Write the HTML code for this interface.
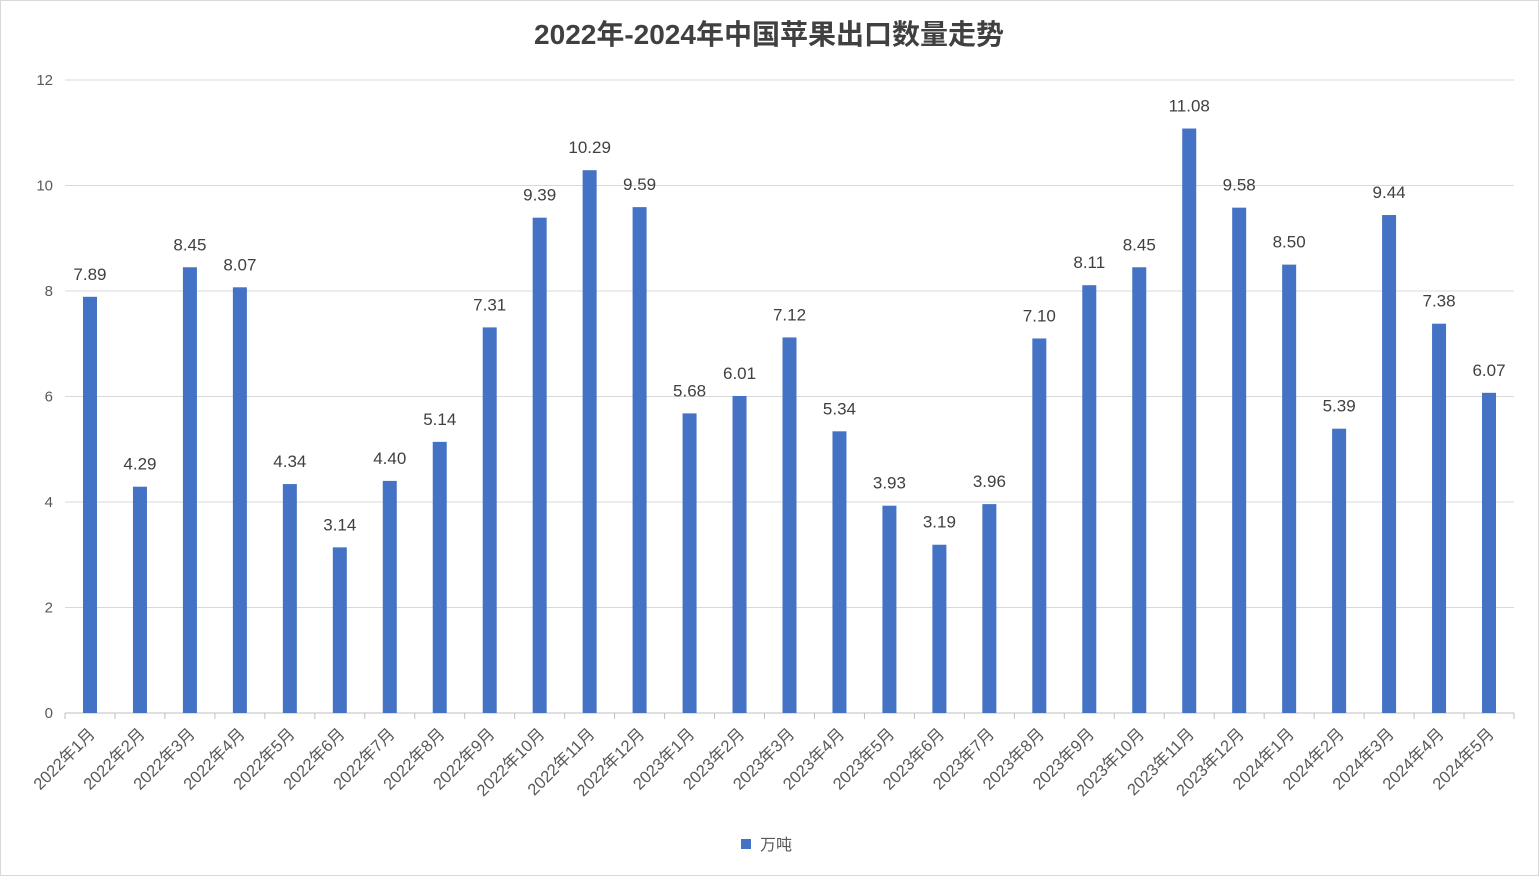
<!DOCTYPE html>
<html><head><meta charset="utf-8"><style>
html,body{margin:0;padding:0;background:#fff;}
svg{display:block;font-family:"Liberation Sans","Noto Sans CJK SC",sans-serif;}
</style></head><body>
<svg width="1539" height="876" viewBox="0 0 1539 876" xmlns="http://www.w3.org/2000/svg">
<rect x="0.5" y="0.5" width="1538" height="875" fill="#fff" stroke="#d9d9d9"/>
<text x="769" y="44" text-anchor="middle" font-size="28" font-weight="bold" fill="#404040">2022年-2024年中国苹果出口数量走势</text>
<g id="grid" stroke="#d9d9d9" stroke-width="1"></g>
<g id="ylab" font-size="15" fill="#595959" text-anchor="end"></g>
<g id="bars" fill="#4472c4"></g>
<g id="vals" font-size="17" fill="#404040" text-anchor="middle"></g>
<g id="xlab" font-size="16.5" fill="#595959" text-anchor="end"></g>
<rect x="741" y="839" width="10" height="10" fill="#4472c4"/>
<text x="760" y="850" font-size="16" fill="#595959">万吨</text>
<script>
var ns="http://www.w3.org/2000/svg";
function el(p,t,a,txt){var e=document.createElementNS(ns,t);for(var k in a)e.setAttribute(k,a[k]);if(txt!=null)e.textContent=txt;document.getElementById(p).appendChild(e);}
var y0=713,s=52.75;
for(var i=0;i<=12;i+=2){var y=y0-i*s;el("grid","line",{x1:65,x2:1514,y1:y,y2:y,stroke:i==0?"#bfbfbf":"#d9d9d9"});el("ylab","text",{x:53,y:y+5},String(i));}
var v=[7.89,4.29,8.45,8.07,4.34,3.14,4.40,5.14,7.31,9.39,10.29,9.59,5.68,6.01,7.12,5.34,3.93,3.19,3.96,7.10,8.11,8.45,11.08,9.58,8.50,5.39,9.44,7.38,6.07];
var lab=[];
for(var m=1;m<=12;m++)lab.push("2022年"+m+"月");
for(var m=1;m<=12;m++)lab.push("2023年"+m+"月");
for(var m=1;m<=5;m++)lab.push("2024年"+m+"月");
var w=1449/29;
for(var i=0;i<=29;i++){var x=65+i*w;el("grid","line",{x1:x,x2:x,y1:713,y2:719,stroke:"#bfbfbf"});}
v.forEach(function(d,i){var c=65+w*(i+0.5);var h=d*s;
el("bars","rect",{x:c-7,y:y0-h,width:14,height:h});
el("vals","text",{x:c,y:y0-h-17},d.toFixed(2));
el("xlab","text",{x:c+6,y:735,transform:"rotate(-45 "+(c+6)+" 735)"},lab[i]);});
</script>
</svg>
</body></html>
